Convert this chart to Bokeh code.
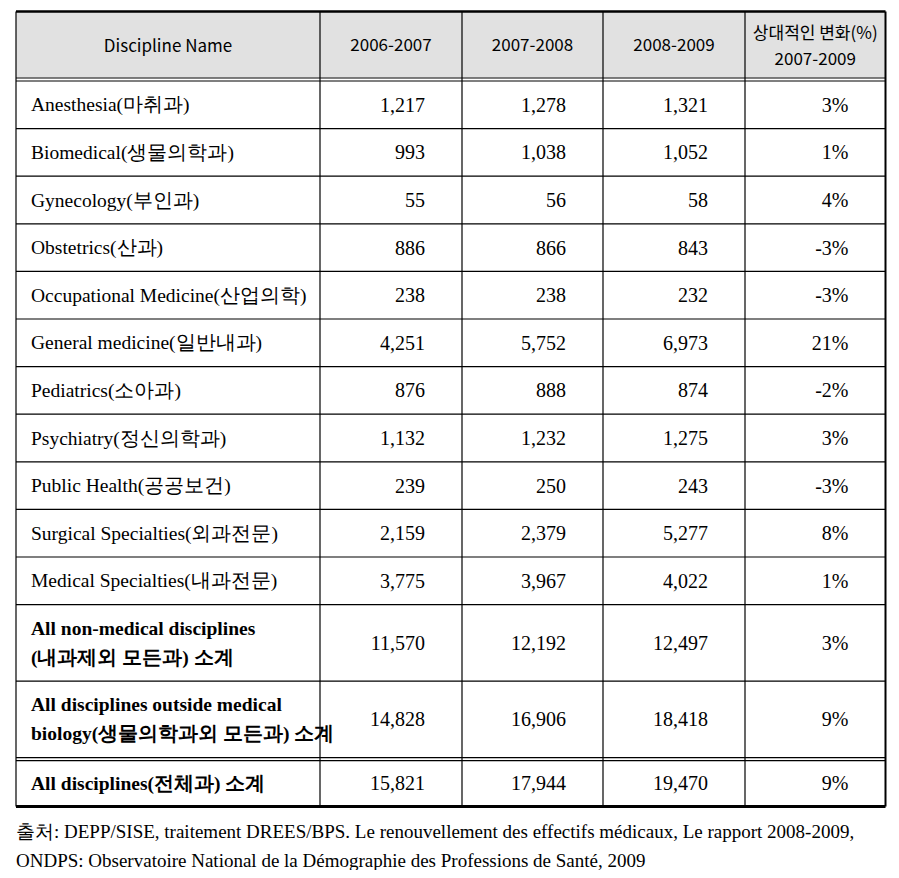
from bokeh.plotting import figure
from bokeh.models import Range1d, ColumnDataSource
from bokeh.core.properties import value
from bokeh.embed import file_html
from bokeh.resources import INLINE

# ---- data ----
headers = ["Discipline Name", "2006-2007", "2007-2008", "2008-2009", "상대적인 변화(%)\n2007-2009"]
names = [
    "Anesthesia(마취과)",
    "Biomedical(생물의학과)",
    "Gynecology(부인과)",
    "Obstetrics(산과)",
    "Occupational Medicine(산업의학)",
    "General medicine(일반내과)",
    "Pediatrics(소아과)",
    "Psychiatry(정신의학과)",
    "Public Health(공공보건)",
    "Surgical Specialties(외과전문)",
    "Medical Specialties(내과전문)",
    "All non-medical disciplines\n(내과제외 모든과) 소계",
    "All disciplines outside medical\nbiology(생물의학과외 모든과) 소계",
    "All disciplines(전체과) 소계",
]
v2006_2007 = [1217, 993, 55, 886, 238, 4251, 876, 1132, 239, 2159, 3775, 11570, 14828, 15821]
v2007_2008 = [1278, 1038, 56, 866, 238, 5752, 888, 1232, 250, 2379, 3967, 12192, 16906, 17944]
v2008_2009 = [1321, 1052, 58, 843, 232, 6973, 874, 1275, 243, 5277, 4022, 12497, 18418, 19470]
change_pct = [3, 1, 4, -3, -3, 21, -2, 3, -3, 8, 1, 3, 9, 9]
source_note = [
    "출처: DEPP/SISE, traitement DREES/BPS. Le renouvellement des effectifs médicaux, Le rapport 2008-2009,",
    "ONDPS: Observatoire National de la Démographie des Professions de Santé, 2009",
]

# ---- layout ----
W, H = 891, 870
p = figure(width=W, height=H, x_range=Range1d(0, W), y_range=Range1d(H, 0),
           output_backend="svg", toolbar_location=None, min_border=0,
           x_axis_location=None, y_axis_location=None)
p.grid.visible = False
p.outline_line_color = None
p.background_fill_color = "white"

col_edges = [15.5, 319.5, 461.5, 602.5, 744.5, 885]
tbl_top = 11
hdr_bottom = 77
first_row_top = 80.5
single_h = 47.6
double_h = 76.5

# row boundaries
row_tops, row_bots = [], []
y = first_row_top
n = len(names)
for i in range(n):
    if i == n - 1:
        y0 = y + 3
        y1 = y0 + 45
    else:
        nlines = names[i].count("\n") + 1
        h = single_h if nlines == 1 else double_h
        y0, y1 = y, y + h
    row_tops.append(y0)
    row_bots.append(y1)
    y = y1
tbl_bottom = row_bots[-1]

# header background
p.quad(left=[col_edges[0]], right=[col_edges[-1]], top=[tbl_top], bottom=[hdr_bottom],
       fill_color="#e1e1e1", line_color=None)

# horizontal lines
hx0, hx1, hy, hw = [], [], [], []
hx0 += [col_edges[0]]; hx1 += [col_edges[-1]]; hy += [tbl_top]; hw += [2.5]
hx0 += [col_edges[0]] * 2; hx1 += [col_edges[-1]] * 2; hy += [hdr_bottom + 0.5, 80.5]; hw += [1.2, 1.2]
for i in range(n - 1):
    if i == n - 2:
        hx0 += [col_edges[0]] * 2; hx1 += [col_edges[-1]] * 2
        hy += [row_bots[i], row_bots[i] + 3]; hw += [1.2, 1.2]
    else:
        hx0 += [col_edges[0]]; hx1 += [col_edges[-1]]; hy += [row_bots[i]]; hw += [1.2]
hx0 += [col_edges[0]]; hx1 += [col_edges[-1]]; hy += [tbl_bottom + 1]; hw += [3]
p.segment(x0=hx0, x1=hx1, y0=hy, y1=hy, line_color="black", line_width=hw)

# vertical lines
vx = col_edges
vw = [1.2, 1.2, 1.2, 1.2, 1.2, 2]
p.segment(x0=vx, x1=vx, y0=[tbl_top] * len(vx), y1=[tbl_bottom + 1] * len(vx),
          line_color="black", line_width=vw)

# header text
hx, hyy, ht = [], [], []
for j, h in enumerate(headers):
    cx = (col_edges[j] + col_edges[j + 1]) / 2
    lines = h.split("\n")
    mid = (tbl_top + hdr_bottom) / 2
    step = 27
    start = mid - step * (len(lines) - 1) / 2
    for k, ln in enumerate(lines):
        hx.append(cx); hyy.append(start + k * step); ht.append(ln)
p.text(x=hx, y=hyy, text=ht, text_font=value("Noto Sans CJK KR"), text_font_size="17px",
       text_align="center", text_baseline="middle", text_color="black")

# body text
body_font = value("Liberation Serif")
nx, ny, nt, nb = [], [], [], []
numx, numy, numt = [], [], []
for i in range(n):
    mid = (row_tops[i] + row_bots[i]) / 2
    lines = names[i].split("\n")
    step = 29
    start = mid - step * (len(lines) - 1) / 2
    for k, ln in enumerate(lines):
        nx.append(col_edges[0] + 15); ny.append(start + k * step); nt.append(ln)
        nb.append("bold" if i >= 11 else "normal")
    vals = [f"{v2006_2007[i]:,}", f"{v2007_2008[i]:,}", f"{v2008_2009[i]:,}", f"{change_pct[i]}%"]
    for j, s in enumerate(vals):
        numx.append(col_edges[j + 2] - 37); numy.append(mid); numt.append(s)

src_n = ColumnDataSource(dict(x=nx, y=ny, text=nt, style=nb))
p.text(x="x", y="y", text="text", source=src_n, text_font=body_font, text_font_size="19.5px",
       text_font_style="style", text_align="left", text_baseline="middle", text_color="black")
p.text(x=numx, y=numy, text=numt, text_font=body_font, text_font_size="20px",
       text_align="right", text_baseline="middle", text_color="black")

# footer
p.text(x=[col_edges[0]] * 2, y=[831, 860], text=source_note, text_font=body_font,
       text_font_size="19px", text_align="left", text_baseline="middle", text_color="black")

open("out.html", "w").write(file_html(p, INLINE))
